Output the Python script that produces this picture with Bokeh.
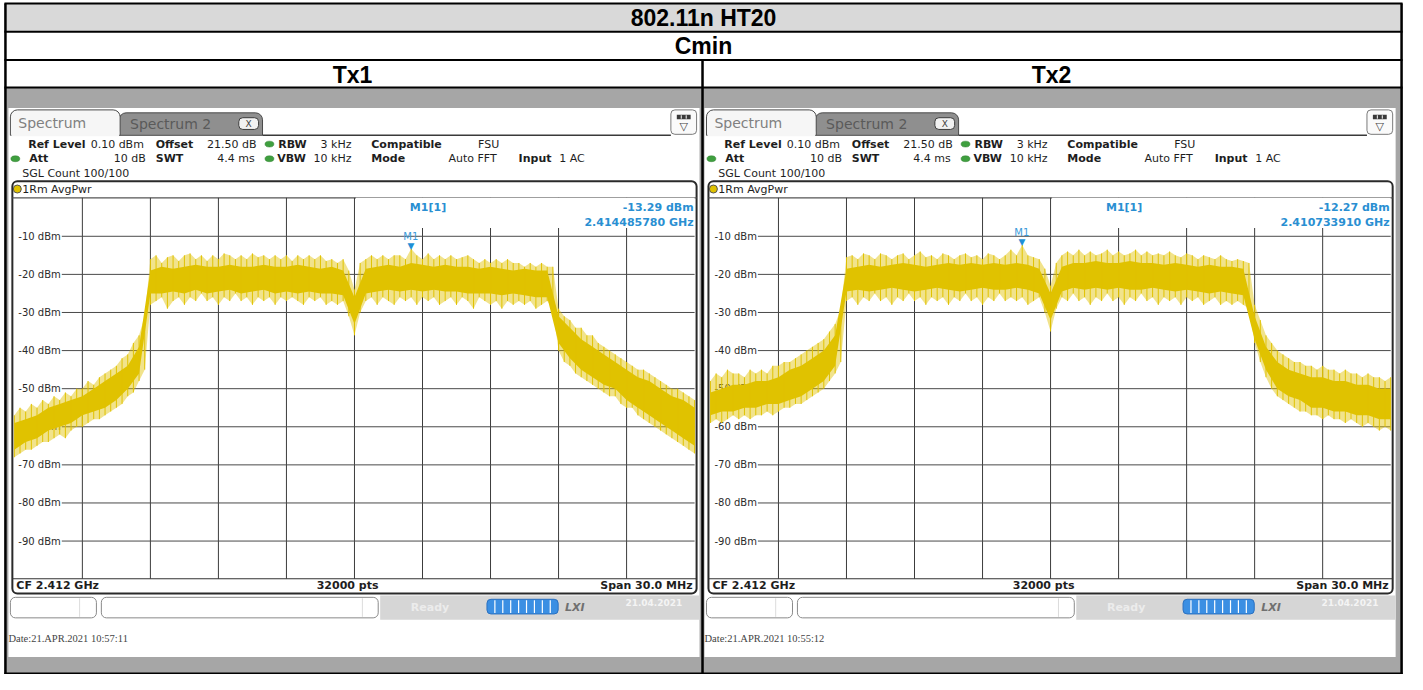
from bokeh.plotting import figure
from bokeh.models import Range1d
from bokeh.embed import file_html
from bokeh.resources import INLINE
from bokeh.core.properties import value

# ---------------- data ----------------
TITLE = "802.11n HT20"
SUBTITLE = "Cmin"
PANEL_TITLES = ["Tx1", "Tx2"]
CF_GHZ = 2.412
SPAN_MHZ = 30.0
SWEEP_POINTS = 32000
REF_LEVEL_DBM = 0.10
RANGE_DB = 100
LEVEL_TICKS = [-10, -20, -30, -40, -50, -60, -70, -80, -90]
FREQ_TICKS_GHZ = [2.400, 2.403, 2.406, 2.409, 2.412, 2.415, 2.418, 2.421, 2.424]

# sample grid of the read-off envelopes (MHz from centre)
TRACE_OFFSETS_MHZ = [round(-15 + 0.25 * i, 2) for i in range(121)]
CORE_OFFSETS_MHZ = [round(-15 + 0.5 * i, 1) for i in range(61)]

TX1_PEAK = [
    -57, -55, -56, -54, -55, -53, -54, -52, -53, -51, -52, -50, -50, -48, -49, -47, -46, -45, -44, -42, -41, -38, -36, -31,
    -16, -15, -17, -15.5, -15, -16.5, -15, -14.5, -16, -15, -16.5, -15, -16, -14.5, -15, -16, -15, -16,
    -14.5, -15.5, -15, -16, -15, -16, -15, -16.5, -15, -16, -15, -16, -15, -16.5, -16, -17, -16, -19,
    -24,
    -17, -16, -15, -16, -15, -16, -15, -15, -16, -13.3, -15, -16, -14.5, -16, -15, -16, -15, -16,
    -15.5, -15, -16, -17, -16, -17, -16, -17, -16, -17, -17, -18, -17, -18, -17, -18, -18,
    -29, -31, -32, -34, -34, -36, -36, -38, -39, -40, -41, -42, -43, -44, -45, -45, -46, -47, -48, -49, -50, -50, -51, -52, -53,
]
TX1_FLOOR = [
    -68, -67, -66, -66, -65, -64, -64, -63, -62, -63, -61, -60, -60, -59, -58, -58, -57, -56, -55, -54, -52, -51, -48, -45,
    -28, -27, -26, -29, -27, -26, -28, -26, -27, -25, -27, -26, -28, -26, -27, -25, -27, -26,
    -28, -26, -27, -26, -28, -26, -27, -26, -27, -28, -26, -27, -26, -28, -27, -28, -27, -31,
    -36,
    -30, -27, -26, -28, -26, -27, -28, -26, -27, -26, -28, -26, -27, -26, -28, -27, -26, -28,
    -26, -27, -29, -26, -27, -28, -27, -29, -27, -28, -27, -28, -27, -29, -28, -27, -29,
    -40, -43, -44, -46, -47, -48, -49, -50, -51, -52, -52, -54, -55, -55, -57, -58, -59, -60, -61, -62, -63, -64, -65, -66, -67,
]
TX1_CORE_HI = [
    -59, -58, -57, -55, -54, -53, -52, -50, -48, -46, -44, -39,
    -19, -18, -18.5, -18, -17.5, -18, -18, -17.5, -18, -18, -17.5, -18, -18, -17.5, -18, -18.5, -18, -19,
    -26,
    -18.5, -18, -17.5, -18, -17, -17.5, -18, -17.5, -18, -18, -18.5, -18, -18.5, -19, -18.5, -19, -19,
    -31, -34, -37, -39, -41, -43, -45, -47, -48, -50, -52, -53, -55,
]
TX1_CORE_LO = [
    -66, -64, -63, -61, -60, -59, -57, -56, -55, -53, -50, -46,
    -25, -25, -24.5, -25, -24, -25, -24.5, -24, -25, -24.5, -24, -25, -24.5, -25, -24.5, -25, -25, -25.5,
    -33,
    -25, -24.5, -24, -24.5, -24, -24.5, -24, -24.5, -24.5, -25, -25, -25, -25.5, -25, -25.5, -26, -26,
    -38, -42, -45, -47, -49, -50, -53, -55, -57, -59, -61, -63, -65,
]

TX2_PEAK = [
    -48, -46, -47, -45, -46, -46, -47, -45, -46, -45, -46, -44, -44, -43, -43, -42, -41, -40, -39, -38, -37, -35, -33, -29,
    -15.5, -15, -16, -14.5, -15, -16, -14.5, -15, -16, -15, -14.5, -16, -15, -14, -15.5, -15, -16, -14.5,
    -15, -16, -15, -14.5, -15.5, -15, -16, -14.5, -15, -16, -15, -13.5, -15, -12.27, -15, -15.5, -16, -18.5,
    -23,
    -17, -15, -14, -15, -13.5, -15, -14, -15, -14.5, -13.5, -15, -14, -15, -14.5, -13.5, -15, -14, -15,
    -14.5, -15, -14, -15, -15.5, -14.5, -15, -16, -15, -15.5, -16, -15, -16, -16.5, -16, -16.5, -17,
    -28, -32, -36, -38, -40, -41, -42, -43, -43, -44, -44, -45, -44, -45, -45, -46, -45, -46, -46, -47, -46, -47, -47, -48, -47,
]
TX2_FLOOR = [
    -59, -58, -59, -58, -57, -58, -57, -58, -57, -57, -56, -57, -56, -55, -55, -54, -54, -53, -52, -51, -50, -48, -46, -43,
    -27, -26, -28, -26, -27, -25, -27, -26, -28, -26, -27, -25, -27, -26, -28, -26, -27, -26,
    -28, -26, -27, -25, -27, -26, -28, -26, -27, -25, -27, -26, -27, -26, -28, -27, -26, -30,
    -35,
    -29, -26, -27, -25, -27, -26, -28, -26, -27, -25, -27, -26, -28, -26, -27, -25, -27, -26,
    -28, -26, -27, -26, -28, -26, -27, -26, -28, -27, -26, -28, -27, -28, -27, -28, -29,
    -38, -43, -47, -50, -52, -53, -54, -55, -56, -56, -57, -57, -58, -57, -58, -58, -59, -58, -59, -60, -59, -60, -61, -60, -61,
]
TX2_CORE_HI = [
    -51, -50, -49, -49, -48, -48, -47, -45, -44, -42, -40, -36,
    -18.5, -18, -17.5, -18, -17.5, -17, -17.5, -18, -17.5, -17, -17.5, -17, -17.5, -17, -17.5, -17, -17.5, -18.5,
    -25,
    -18, -17, -17, -16.5, -17, -17, -16.5, -17, -17, -17.5, -17, -17.5, -18, -17.5, -18, -18, -18.5,
    -31, -39, -43, -45, -46, -47, -47, -48, -48, -49, -49, -50, -50,
]
TX2_CORE_LO = [
    -57, -56, -56, -55, -55, -54, -54, -53, -52, -50, -48, -44,
    -24.5, -24, -24.5, -24, -23.5, -24, -24.5, -24, -23.5, -24, -24.5, -24, -23.5, -24, -24, -23.5, -24, -25,
    -32,
    -24.5, -23.5, -24, -23.5, -24, -23.5, -24, -24, -23.5, -24, -24.5, -24, -24.5, -25, -24.5, -25, -25.5,
    -37, -45, -50, -52, -53, -55, -55, -56, -56, -57, -57, -58, -58,
]

MARKER_FREQ_GHZ = [2.414485780, 2.410733910]
MARKER_LEVEL_DBM = [-13.29, -12.27]
DATE_TEXT = ["Date:21.APR.2021  10:57:11", "Date:21.APR.2021  10:55:12"]
STATUS_DATE = ["21.04.2021", "21.04.2021"]

PEAKS = [TX1_PEAK, TX2_PEAK]
FLOORS = [TX1_FLOOR, TX2_FLOOR]
CORE_HI = [TX1_CORE_HI, TX2_CORE_HI]
CORE_LO = [TX1_CORE_LO, TX2_CORE_LO]

# ---------------- layout (reference pixel space) ----------------
REF_W, REF_H = 1423, 690
W, H = 1407, 674
PANEL_DX = [0, 704]
GRAPH_L = [14, 718]
GRAPH_R = [702, 1406]
GRAPH_T, GRAPH_B = 202, 592
LABEL_GAP_PX = 48

YELLOW = "#e0c200"
BLUE = "#2a8fd2"
DARK = "#1e1e1e"

p = figure(width=W, height=H, x_range=Range1d(0, REF_W), y_range=Range1d(REF_H, 0),
           output_backend="svg", toolbar_location=None, min_border=0,
           x_axis_location=None, y_axis_location=None)
p.outline_line_color = None
p.grid.visible = False
p.background_fill_color = "white"
p.border_fill_color = "white"

f_lo = CF_GHZ - SPAN_MHZ / 2000.0
f_hi = CF_GHZ + SPAN_MHZ / 2000.0
xr = {}
for i in range(2):
    s = (f_hi - f_lo) / (GRAPH_R[i] - GRAPH_L[i])
    xr[f"tx{i+1}"] = Range1d(f_lo - GRAPH_L[i] * s, f_lo + (REF_W - GRAPH_L[i]) * s)
p.extra_x_ranges = xr
sdb = RANGE_DB / (GRAPH_B - GRAPH_T)
p.extra_y_ranges = {"dbm": Range1d(REF_LEVEL_DBM - (REF_H - GRAPH_T) * sdb, REF_LEVEL_DBM + GRAPH_T * sdb)}


def box(l, r, t, b, fill, line=None, lw=1, radius=0, alpha=1.0):
    p.quad(left=[l], right=[r], top=[t], bottom=[b], fill_color=fill, fill_alpha=alpha,
           line_color=line, line_width=lw, border_radius=radius)


def seg(x0, y0, x1, y1, color="#444444", lw=1, **kw):
    p.segment(x0=[x0], y0=[y0], x1=[x1], y1=[y1], line_color=color, line_width=lw, **kw)


def txt(x, y, s, size="11px", bold=False, color=DARK, align="left", baseline="middle",
        font="DejaVu Sans", italic=False, **kw):
    style = "normal"
    if bold and italic:
        style = "bold italic"
    elif bold:
        style = "bold"
    elif italic:
        style = "italic"
    p.text(x=[x], y=[y], text=[s], text_font=value(font), text_font_size=size,
           text_font_style=style, text_color=color, text_align=align, text_baseline=baseline, **kw)


# table rows
box(4, 1418, 3, 32, "#d9d9d9")
box(4, 1418, 32, 89, "white")
box(4, 1418, 89, 690, "#a6a6a6")
txt(711, 18, TITLE, size="23px", bold=True, color="black", align="center", font="Liberation Sans")
txt(711, 47, SUBTITLE, size="23px", bold=True, color="black", align="center", font="Liberation Sans")
txt(356, 76, PANEL_TITLES[0], size="23px", bold=True, color="black", align="center", font="Liberation Sans")
txt(1063, 76, PANEL_TITLES[1], size="23px", bold=True, color="black", align="center", font="Liberation Sans")


def panel(i):
    dx = PANEL_DX[i]
    rn = f"tx{i+1}"
    g = dict(x_range_name=rn, y_range_name="dbm")
    # screenshot background
    box(8 + dx, 707 + dx, 110, 672, "white")
    # tabs
    box(120 + dx, 265 + dx, 115, 138, "#8f8f8f", "#4a4a4a", 1, radius=(7, 7, 0, 0))
    box(10 + dx, 121 + dx, 112, 138, "#f6f6f6", "#4a4a4a", 1, radius=(7, 7, 0, 0))
    box(11 + dx, 120 + dx, 134, 139, "#f6f6f6")
    seg(265 + dx, 138, 678 + dx, 138, "#3a3a3a", 1.5)
    txt(18 + dx, 125, "Spectrum", size="14px", color="#808080")
    txt(131 + dx, 126, "Spectrum 2", size="14px", color="#5a5a5a")
    box(241 + dx, 261 + dx, 120, 132, "#f2f2f2", "#3c3c3c", 1, radius=4)
    txt(251 + dx, 126.5, "X", size="9px", color="#444444", align="center")
    # dropdown icon
    box(678 + dx, 704 + dx, 112, 137, "#fafafa", "#7a7a7a", 1, radius=4)
    box(684 + dx, 698 + dx, 117, 121.5, "#3a3a3a")
    seg(688.5 + dx, 117.5, 688.5 + dx, 121, "white")
    seg(693.5 + dx, 117.5, 693.5 + dx, 121, "white")
    txt(691 + dx, 129, "\u25bd", size="11px", color="#444444", align="center")

    # setting lines
    y1, y2, y3 = 147, 162, 177
    txt(28 + dx, y1, "Ref Level", bold=True)
    txt(145 + dx, y1, f"{REF_LEVEL_DBM:.2f} dBm", align="right")
    txt(157 + dx, y1, "Offset", bold=True)
    txt(259 + dx, y1, "21.50 dB", align="right")
    txt(281 + dx, y1, "RBW", bold=True)
    txt(355 + dx, y1, "3 kHz", align="right")
    txt(375 + dx, y1, "Compatible", bold=True)
    txt(483 + dx, y1, "FSU")
    txt(29 + dx, y2, "Att", bold=True)
    txt(147 + dx, y2, "10 dB", align="right")
    txt(157 + dx, y2, "SWT", bold=True)
    txt(257 + dx, y2, "4.4 ms", align="right")
    txt(280 + dx, y2, "VBW", bold=True)
    txt(355 + dx, y2, "10 kHz", align="right")
    txt(375 + dx, y2, "Mode", bold=True)
    txt(453 + dx, y2, "Auto FFT")
    txt(524 + dx, y2, "Input", bold=True)
    txt(565 + dx, y2, "1 AC")
    txt(22 + dx, y3, "SGL Count 100/100")
    p.ellipse(x=[272 + dx, 15 + dx, 272 + dx], y=[y1, y2, y2], width=9, height=6,
              fill_color="#3f9f3f", line_color="#2f7f2f", line_width=0.5)

    # graph frame
    box(12 + dx, 704 + dx, 185, 607, "white", "#2a2a2a", 2, radius=5)
    p.scatter(x=[17 + dx], y=[193], size=8, marker="circle", fill_color=YELLOW, line_color="#555555")
    txt(22 + dx, 193, "1Rm AvgPwr")
    seg(12 + dx, GRAPH_T, 704 + dx, GRAPH_T, "#555555", 1.2)
    seg(12 + dx, GRAPH_B, 704 + dx, GRAPH_B, "#333333", 1.2)

    # grid
    n = len(FREQ_TICKS_GHZ)
    p.segment(x0=FREQ_TICKS_GHZ, y0=[REF_LEVEL_DBM] * n, x1=FREQ_TICKS_GHZ,
              y1=[REF_LEVEL_DBM - RANGE_DB] * n, line_color="#3c3c3c", line_width=1, **g)
    gap = (f_hi - f_lo) * LABEL_GAP_PX / (GRAPH_R[i] - GRAPH_L[i])
    m = len(LEVEL_TICKS)
    p.segment(x0=[f_lo + gap] * m, y0=LEVEL_TICKS, x1=[f_hi] * m, y1=LEVEL_TICKS,
              line_color="#4a4a4a", line_width=1, **g)
    # marker info area
    px_g = (f_hi - f_lo) / (GRAPH_R[i] - GRAPH_L[i])
    p.quad(left=[CF_GHZ + 1.5 * px_g], right=[f_hi], top=[REF_LEVEL_DBM],
           bottom=[REF_LEVEL_DBM - 31 * sdb], fill_color="white", line_color=None, **g)
    p.text(x=[f_lo] * m, y=LEVEL_TICKS, text=[f"{v} dBm" for v in LEVEL_TICKS], x_offset=4,
           text_font=value("DejaVu Sans"), text_font_size="10px", text_color="#2b2b2b",
           text_baseline="middle", text_align="left", **g)

    # trace: faint full envelope, solid dense core, spikes to the read peaks/floors
    fx = [CF_GHZ + o / 1000.0 for o in TRACE_OFFSETS_MHZ]
    cx = [CF_GHZ + o / 1000.0 for o in CORE_OFFSETS_MHZ]
    p.varea(x=fx, y1=FLOORS[i], y2=PEAKS[i], fill_color=YELLOW, fill_alpha=0.45, **g)
    p.varea(x=cx, y1=CORE_LO[i], y2=CORE_HI[i], fill_color=YELLOW, fill_alpha=1.0, **g)
    p.segment(x0=fx, y0=FLOORS[i], x1=fx, y1=PEAKS[i], line_color=YELLOW, line_width=1.0, **g)

    # marker
    p.text(x=[MARKER_FREQ_GHZ[i]], y=[MARKER_LEVEL_DBM[i]], text=["\u25bc"], y_offset=-3,
           text_font=value("DejaVu Sans"), text_font_size="9px", text_color="#1f8fd6",
           text_align="center", text_baseline="middle", **g)
    p.text(x=[MARKER_FREQ_GHZ[i]], y=[MARKER_LEVEL_DBM[i]], text=["M1"], y_offset=-12,
           text_font=value("DejaVu Sans"), text_font_size="10px", text_color="#3a9ad9",
           text_align="center", text_baseline="middle", **g)
    txt(414 + dx, 212, "M1[1]", bold=True, color=BLUE)
    txt(701 + dx, 212, f"{MARKER_LEVEL_DBM[i]:.2f} dBm", bold=True, color=BLUE, align="right")
    txt(701 + dx, 227, f"{MARKER_FREQ_GHZ[i]:.9f} GHz", bold=True, color=BLUE, align="right")

    # bottom info
    txt(16 + dx, 599, f"CF {CF_GHZ:.3f} GHz", bold=True)
    txt(351 + dx, 599, f"{SWEEP_POINTS} pts", bold=True, align="center")
    txt(700 + dx, 599, f"Span {SPAN_MHZ:.1f} MHz", bold=True, align="right")

    # status bar
    box(384 + dx, 707 + dx, 609, 634, "#d6d6d6")
    box(10 + dx, 97 + dx, 611, 632, "white", "#8a8a8a", 1, radius=5)
    seg(80 + dx, 612, 80 + dx, 631, "#dcdcdc")
    box(102 + dx, 382 + dx, 611, 632, "white", "#8a8a8a", 1, radius=5)
    seg(366 + dx, 612, 366 + dx, 631, "#dcdcdc")
    txt(415 + dx, 621, "Ready", bold=True, color="#ececec")
    box(492 + dx, 564 + dx, 613, 628, "#3b8fe3", "#2a70c0", 1, radius=4)
    for k in range(1, 9):
        seg(492 + dx + 8 * k, 614, 492 + dx + 8 * k, 627, "white", 1.2)
    txt(571 + dx, 621, "LXI", size="11px", bold=True, italic=True, color="#707070")
    txt(632 + dx, 616, STATUS_DATE[i], size="9px", bold=True, color="#f4f4f4")
    txt(8 + dx, 653, DATE_TEXT[i], size="10.5px", color="#444444", font="Liberation Serif")


panel(0)
panel(1)

# table borders
bc = "black"
for yy in (3, 32, 61, 89):
    seg(4, yy, 1418, yy, bc, 2)
seg(4, 689, 1418, 689, bc, 2)
seg(5, 3, 5, 690, bc, 2.5)
seg(1417, 3, 1417, 690, bc, 2.5)
seg(710, 61, 710, 690, bc, 2.5)

open("out.html", "w").write(file_html(p, INLINE))
